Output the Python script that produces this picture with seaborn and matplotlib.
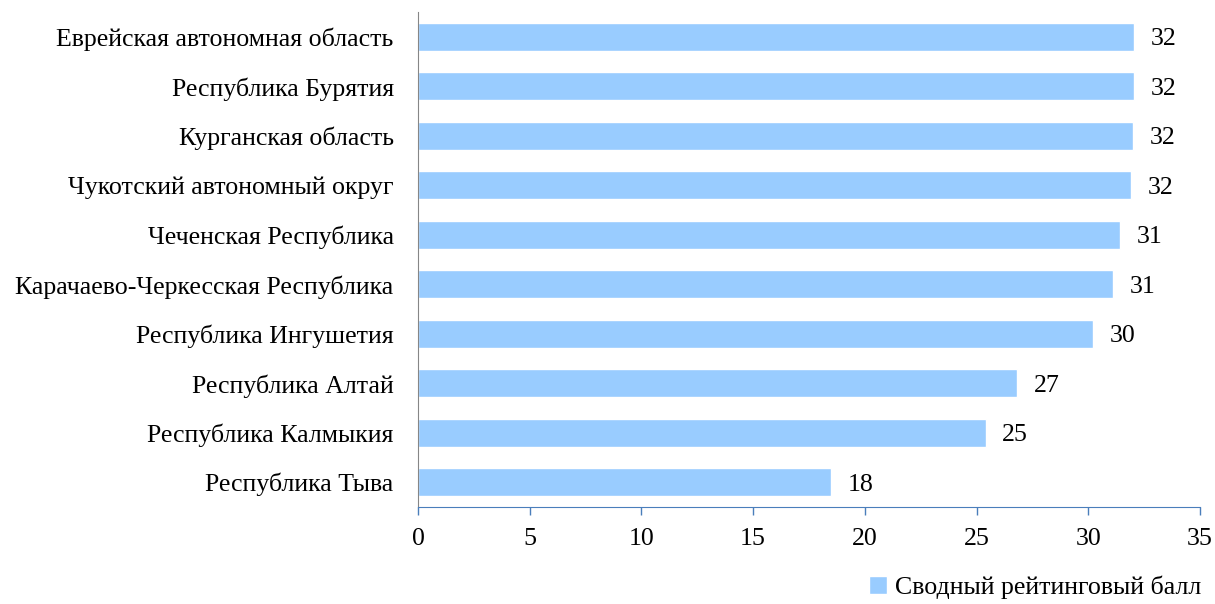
import pandas as pd
import matplotlib.pyplot as plt
import seaborn as sns

regions = [
    'Еврейская автономная область',
    'Республика Бурятия',
    'Курганская область',
    'Чукотский автономный округ',
    'Чеченская Республика',
    'Карачаево-Черкесская Республика',
    'Республика Ингушетия',
    'Республика Алтай',
    'Республика Калмыкия',
    'Республика Тыва',
]
scores = [32.05, 32.05, 32.0, 31.9, 31.4, 31.1, 30.2, 26.8, 25.4, 18.5]
series_name = 'Сводный рейтинговый балл'

df = pd.DataFrame({'Регион': regions, 'Балл': scores})

sns.set_style('white')
plt.rcParams['font.family'] = ['Liberation Serif', 'DejaVu Serif']
plt.rcParams['text.color'] = 'black'
plt.rcParams['xtick.color'] = 'black'
plt.rcParams['ytick.color'] = 'black'

fs = 18.6

fig = plt.figure(figsize=(12.15, 6.04), dpi=100)
ax = fig.add_axes([0.344, 0.1606, 0.6437, 0.8195])

sns.barplot(x='Балл', y='Регион', data=df, color='#99CCFF', saturation=1,
            width=0.57, label=series_name, ax=ax)
if ax.legend_ is not None:
    ax.legend_.remove()

vals = ax.bar_label(ax.containers[0], fmt='%.0f', padding=12, fontsize=fs)
for t in vals:
    t.set_va('center_baseline')

ax.set_xlim(0, 35)
ax.set_xticks(range(0, 36, 5))
ax.set_xlabel('')
ax.set_ylabel('')

for side in ['top', 'right']:
    ax.spines[side].set_visible(False)
ax.spines['left'].set_color('#868686')
ax.spines['bottom'].set_color('#4A7EBB')

ax.tick_params(axis='x', bottom=True, direction='out', length=6, width=1,
               color='#4A7EBB', labelcolor='black', pad=9, labelsize=fs)
ax.tick_params(axis='y', left=False, pad=14, labelsize=fs, labelcolor='black')

handles, labels = ax.get_legend_handles_labels()
fig.legend(handles, labels, loc='lower right', bbox_to_anchor=(1.008, -0.03),
           frameon=False, fontsize=fs, handlelength=0.7, handleheight=0.7,
           handletextpad=0.3)

plt.savefig('out.png', dpi=100)
